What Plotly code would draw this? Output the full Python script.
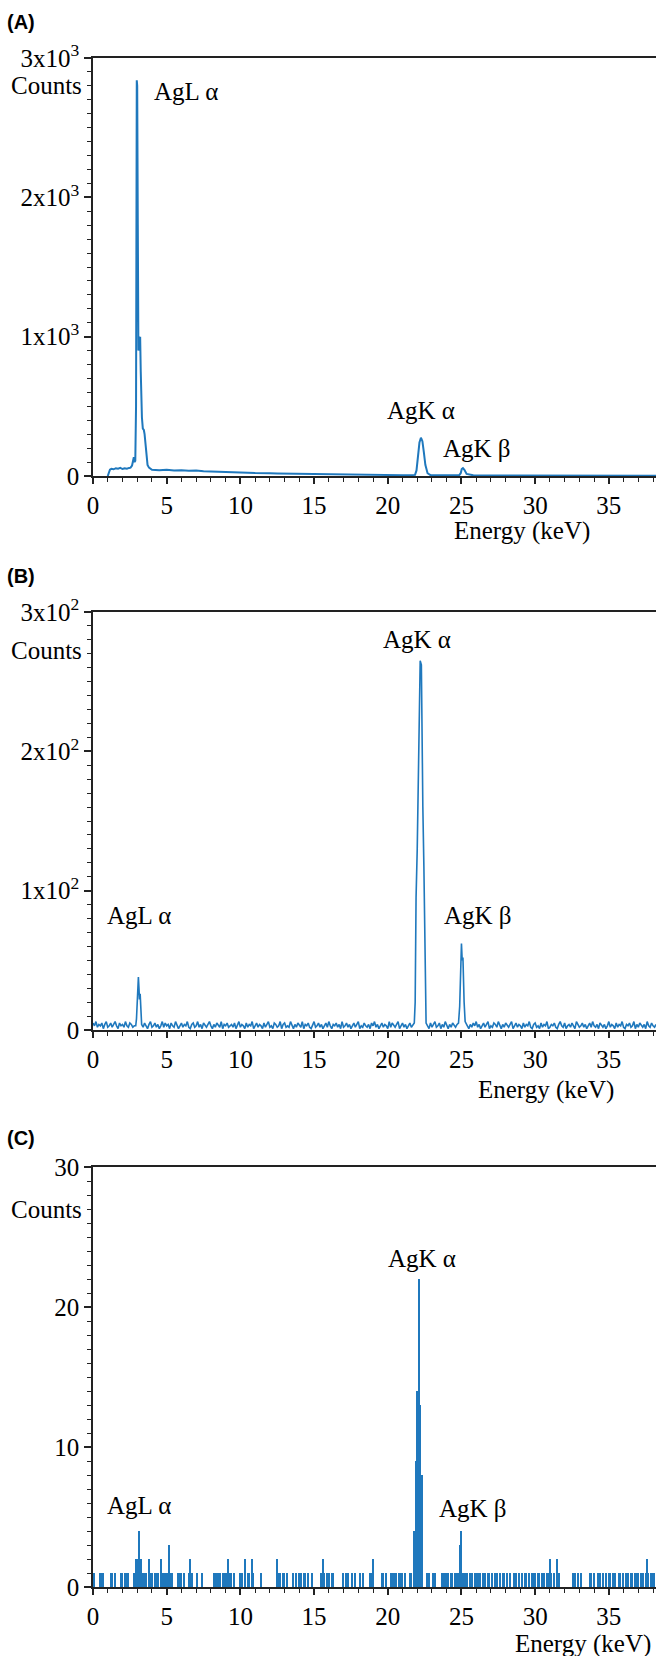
import plotly.graph_objects as go

W, H = 656, 1656
LINE = "#1f78bd"
AX = "#222222"
SERIF = "Liberation Serif"

# ---------------- data ----------------
# Panel A: EDS spectrum, counts vs energy (keV)
a_energy = [1.0, 1.08, 1.15, 1.25, 1.4, 1.55, 1.7, 1.85, 2.0, 2.15, 2.3, 2.45, 2.55, 2.65,
            2.72, 2.77, 2.82, 2.87, 2.92, 2.97, 3.0, 3.04, 3.08, 3.12, 3.16, 3.2, 3.24, 3.28,
            3.32, 3.38, 3.45, 3.5, 3.56, 3.62, 3.7, 3.8, 3.9, 4.0, 4.5, 5.0, 5.5, 6.0, 6.5,
            7.0, 7.5, 8.0, 8.5, 9.0, 9.5, 10.0, 10.5, 11.0, 11.5, 12.0, 12.5, 13.0, 13.5,
            14.0, 14.5, 15.0, 15.5, 16.0, 16.5, 17.0, 17.5, 18.0, 18.5, 19.0, 19.5, 20.0,
            20.5, 21.0, 21.5, 21.7, 21.85, 21.95, 22.05, 22.15, 22.25, 22.35, 22.45, 22.55,
            22.7, 22.9, 23.4, 23.9, 24.4, 24.7, 24.85, 24.95, 25.02, 25.1, 25.2, 25.35, 25.8,
            26.5, 27.5, 28.5, 29.5, 30.5, 31.5, 32.5, 33.5, 34.5, 35.5, 36.5, 37.5, 38.3]
a_counts = [0, 20, 45, 52, 48, 56, 52, 58, 50, 55, 52, 58, 60, 75,
            120, 135, 100, 110, 500, 2840, 2800, 1800, 900, 1000, 980, 1000, 750, 560,
            420, 340, 330, 300, 220, 130, 80, 60, 50, 45, 41, 44, 39, 42, 37, 40,
            34, 33, 30, 29, 26, 25, 24, 21, 22, 19, 18, 17, 16, 15,
            14, 13, 12, 11, 11, 10, 9, 9, 8, 8, 7, 7, 6,
            6, 6, 6, 8, 40, 150, 240, 275, 250, 170, 80, 20,
            6, 5, 5, 5, 5, 6, 20, 50, 57, 45, 15, 5, 4,
            4, 3, 3, 3, 3, 2, 2, 2, 2, 2, 2, 2, 2]

# Panel B
b_energy = [
    0.0, 0.1, 0.2, 0.3, 0.4, 0.5, 0.6, 0.7, 0.8, 0.9,
    1.0, 1.1, 1.2, 1.3, 1.4, 1.5, 1.6, 1.7, 1.8, 1.9,
    2.0, 2.1, 2.2, 2.3, 2.4, 2.5, 2.6, 2.7, 2.8,
    2.9, 2.95, 3.0, 3.05, 3.08, 3.12, 3.15, 3.2, 3.25, 3.3,
    3.4, 3.5, 3.6, 3.7, 3.8, 3.9, 4.0, 4.1, 4.2, 4.3,
    4.4, 4.5, 4.6, 4.7, 4.8, 4.9, 5.0, 5.1, 5.2, 5.3,
    5.4, 5.5, 5.6, 5.7, 5.8, 5.9, 6.0, 6.1, 6.2, 6.3,
    6.4, 6.5, 6.6, 6.7, 6.8, 6.9, 7.0, 7.1, 7.2, 7.3,
    7.4, 7.5, 7.6, 7.7, 7.8, 7.9, 8.0, 8.1, 8.2, 8.3,
    8.4, 8.5, 8.6, 8.7, 8.8, 8.9, 9.0, 9.1, 9.2, 9.3,
    9.4, 9.5, 9.6, 9.7, 9.8, 9.9, 10.0, 10.1, 10.2, 10.3,
    10.4, 10.5, 10.6, 10.7, 10.8, 10.9, 11.0, 11.1, 11.2, 11.3,
    11.4, 11.5, 11.6, 11.7, 11.8, 11.9, 12.0, 12.1, 12.2, 12.3,
    12.4, 12.5, 12.6, 12.7, 12.8, 12.9, 13.0, 13.1, 13.2, 13.3,
    13.4, 13.5, 13.6, 13.7, 13.8, 13.9, 14.0, 14.1, 14.2, 14.3,
    14.4, 14.5, 14.6, 14.7, 14.8, 14.9, 15.0, 15.1, 15.2, 15.3,
    15.4, 15.5, 15.6, 15.7, 15.8, 15.9, 16.0, 16.1, 16.2, 16.3,
    16.4, 16.5, 16.6, 16.7, 16.8, 16.9, 17.0, 17.1, 17.2, 17.3,
    17.4, 17.5, 17.6, 17.7, 17.8, 17.9, 18.0, 18.1, 18.2, 18.3,
    18.4, 18.5, 18.6, 18.7, 18.8, 18.9, 19.0, 19.1, 19.2, 19.3,
    19.4, 19.5, 19.6, 19.7, 19.8, 19.9, 20.0, 20.1, 20.2, 20.3,
    20.4, 20.5, 20.6, 20.7, 20.8, 20.9, 21.0, 21.1, 21.2, 21.3,
    21.4, 21.5, 21.6, 21.7,
    21.8, 21.86, 21.92, 22.0, 22.05, 22.12, 22.2, 22.28, 22.33, 22.38, 22.45, 22.52, 22.6,
    22.7, 22.8, 22.9, 23.0, 23.1, 23.2, 23.3, 23.4, 23.5, 23.6,
    23.7, 23.8, 23.9, 24.0, 24.1, 24.2, 24.3, 24.4, 24.5, 24.6,
    24.7,
    24.8, 24.88, 24.95, 25.0, 25.05, 25.1, 25.18, 25.25,
    25.4, 25.5, 25.6, 25.7, 25.8, 25.9, 26.0, 26.1, 26.2, 26.3,
    26.4, 26.5, 26.6, 26.7, 26.8, 26.9, 27.0, 27.1, 27.2, 27.3,
    27.4, 27.5, 27.6, 27.7, 27.8, 27.9, 28.0, 28.1, 28.2, 28.3,
    28.4, 28.5, 28.6, 28.7, 28.8, 28.9, 29.0, 29.1, 29.2, 29.3,
    29.4, 29.5, 29.6, 29.7, 29.8, 29.9, 30.0, 30.1, 30.2, 30.3,
    30.4, 30.5, 30.6, 30.7, 30.8, 30.9, 31.0, 31.1, 31.2, 31.3,
    31.4, 31.5, 31.6, 31.7, 31.8, 31.9, 32.0, 32.1, 32.2, 32.3,
    32.4, 32.5, 32.6, 32.7, 32.8, 32.9, 33.0, 33.1, 33.2, 33.3,
    33.4, 33.5, 33.6, 33.7, 33.8, 33.9, 34.0, 34.1, 34.2, 34.3,
    34.4, 34.5, 34.6, 34.7, 34.8, 34.9, 35.0, 35.1, 35.2, 35.3,
    35.4, 35.5, 35.6, 35.7, 35.8, 35.9, 36.0, 36.1, 36.2, 36.3,
    36.4, 36.5, 36.6, 36.7, 36.8, 36.9, 37.0, 37.1, 37.2, 37.3,
    37.4, 37.5, 37.6, 37.7, 37.8, 37.9, 38.0, 38.1, 38.2]
b_counts = [
    5, 3, 6, 2, 4, 3, 5, 1, 4, 6,
    2, 3, 5, 2, 4, 6, 3, 1, 5, 3,
    4, 2, 6, 3, 2, 5, 4, 2, 3,
    3, 8, 18, 28, 38, 30, 22, 26, 10, 4,
    2, 5, 3, 1, 4, 6, 2, 3, 5, 2,
    4, 1, 3, 6, 2, 5, 3, 4, 1, 5,
    3, 2, 6, 4, 1, 3, 5, 2, 4, 3,
    6, 2, 1, 4, 5, 2, 3, 6, 2, 4,
    1, 5, 3, 2, 4, 6, 3, 1, 4, 2,
    5, 3, 2, 6, 1, 4, 3, 5, 2, 3,
    4, 2, 5, 1, 3, 6, 2, 4, 3, 1,
    5, 2, 4, 3, 6, 1, 3, 5, 2, 4,
    3, 1, 5, 2, 4, 6, 2, 3, 1, 5,
    4, 2, 3, 6, 1, 4, 5, 2, 3, 2,
    6, 3, 1, 4, 2, 5, 3, 2, 6, 1,
    4, 3, 5, 2, 1, 4, 6, 2, 3, 5,
    2, 4, 1, 3, 5, 2, 6, 3, 1, 4,
    3, 5, 2, 4, 1, 6, 2, 3, 5, 2,
    4, 1, 3, 5, 2, 4, 6, 1, 3, 2,
    5, 3, 2, 4, 1, 5, 3, 6, 2, 4,
    1, 3, 5, 2, 4, 3, 1, 6, 2, 5,
    3, 2, 4, 6, 1, 3, 5, 2, 4, 1,
    3, 5, 2, 4,
    5, 20, 95, 130, 171, 228, 265, 262, 200, 160, 118, 40, 5,
    3, 1, 5, 2, 4, 6, 2, 3, 5, 1,
    4, 2, 6, 3, 1, 4, 2, 5, 3, 2,
    4,
    5, 17, 45, 62, 50, 52, 20, 6,
    3, 1, 4, 2, 5, 3, 6, 2, 4, 1,
    3, 5, 2, 4, 6, 1, 3, 2, 5, 4,
    2, 6, 3, 1, 4, 2, 5, 3, 2, 4,
    6, 1, 3, 5, 2, 4, 3, 1, 5, 2,
    4, 3, 6, 2, 1, 4, 5, 2, 3, 1,
    5, 2, 4, 3, 6, 1, 2, 4, 3, 5,
    2, 1, 4, 6, 3, 2, 5, 1, 3, 4,
    2, 5, 3, 1, 6, 4, 2, 3, 5, 2,
    4, 1, 3, 5, 2, 6, 3, 2, 4, 1,
    5, 3, 2, 4, 1, 3, 6, 2, 4, 3,
    1, 5, 2, 4, 3, 6, 2, 1, 4, 3,
    5, 2, 3, 6, 1, 4, 2, 5, 3, 2,
    4, 1, 6, 3, 2, 5, 3, 2, 4]

# Panel C: channel energies (keV) with non-zero counts
c_energy = [0.1, 0.5, 0.6, 0.7, 1.2, 1.3, 1.5, 1.9, 2.0, 2.2,
            2.3, 2.4, 2.8, 2.9, 3.0, 3.1, 3.2, 3.3, 3.4, 3.5,
            3.6, 3.8, 3.9, 4.0, 4.2, 4.3, 4.4, 4.6, 4.7, 4.8,
            4.9, 5.0, 5.1, 5.2, 5.3, 5.4, 5.8, 5.9, 6.0, 6.2,
            6.5, 6.6, 6.7, 7.1, 7.4, 8.2, 8.3, 8.4, 8.5, 8.6,
            8.8, 9.0, 9.1, 9.2, 9.3, 9.4, 9.6, 10.0, 10.1, 10.3,
            10.5, 10.6, 10.8, 10.9, 11.4, 12.5, 12.6, 12.7, 12.9, 13.0,
            13.2, 13.6, 13.8, 14.0, 14.1, 14.3, 14.4, 14.6, 14.9, 15.5,
            15.6, 15.7, 15.9, 16.0, 16.2, 16.3, 17.0, 17.2, 17.3, 17.6,
            17.8, 18.1, 18.3, 18.8, 18.9, 19.0, 19.6, 19.7, 19.9, 20.2,
            20.3, 20.4, 20.6, 20.8, 20.9, 21.0, 21.2, 21.5, 21.6, 21.8,
            21.9, 22.0, 22.1, 22.2, 22.3, 22.7, 22.8, 23.1, 23.2, 23.7,
            23.8, 23.9, 24.0, 24.1, 24.3, 24.4, 24.6, 24.7, 24.8, 24.9,
            25.0, 25.1, 25.2, 25.3, 25.4, 25.6, 25.7, 25.9, 26.0, 26.1,
            26.3, 26.5, 26.6, 26.8, 26.9, 27.1, 27.3, 27.4, 27.6, 27.8,
            27.9, 28.1, 28.3, 28.6, 28.7, 28.9, 29.1, 29.3, 29.4, 29.6,
            29.8, 29.9, 30.0, 30.2, 30.3, 30.5, 30.6, 30.8, 30.9, 31.0,
            31.1, 31.3, 31.5, 31.6, 32.6, 32.7, 32.9, 33.1, 33.7, 33.8,
            34.0, 34.3, 34.4, 34.6, 34.8, 35.0, 35.1, 35.3, 35.4, 35.7,
            35.8, 36.0, 36.2, 36.3, 36.5, 36.6, 36.8, 36.9, 37.0, 37.2,
            37.3, 37.5, 37.6, 37.7, 37.9, 38.0, 38.1]
c_counts = [1, 1, 1, 1, 1, 1, 1, 1, 1, 1,
            1, 1, 1, 2, 2, 4, 2, 2, 1, 1,
            1, 2, 1, 1, 1, 1, 1, 2, 1, 1,
            1, 1, 1, 3, 1, 1, 1, 1, 1, 1,
            1, 2, 1, 1, 1, 1, 1, 1, 1, 1,
            1, 1, 1, 2, 1, 1, 1, 1, 1, 2,
            1, 1, 2, 1, 1, 2, 1, 1, 1, 1,
            1, 1, 1, 1, 1, 1, 1, 1, 1, 1,
            2, 1, 1, 1, 1, 1, 1, 1, 1, 1,
            1, 1, 1, 1, 1, 2, 1, 1, 1, 1,
            1, 1, 1, 1, 1, 1, 1, 1, 1, 4,
            9, 14, 22, 13, 8, 1, 1, 1, 1, 1,
            1, 1, 1, 1, 1, 1, 1, 1, 1, 3,
            4, 1, 1, 1, 1, 1, 1, 1, 1, 1,
            1, 1, 1, 1, 1, 1, 1, 1, 1, 1,
            1, 1, 1, 1, 1, 1, 1, 1, 1, 1,
            1, 1, 1, 1, 1, 1, 1, 1, 1, 2,
            1, 1, 2, 1, 1, 1, 1, 1, 1, 1,
            1, 1, 1, 1, 1, 1, 1, 1, 1, 1,
            1, 1, 1, 1, 1, 1, 1, 1, 1, 1,
            1, 1, 2, 1, 1, 1, 1]

x_ticks = [0, 5, 10, 15, 20, 25, 30, 35]
a_ytick_vals = [0, 1000, 2000, 3000]
a_ytick_text = ["0", "1x10<sup>3</sup>", "2x10<sup>3</sup>", "3x10<sup>3</sup>"]
b_ytick_vals = [0, 100, 200, 300]
b_ytick_text = ["0", "1x10<sup>2</sup>", "2x10<sup>2</sup>", "3x10<sup>2</sup>"]
c_ytick_vals = [0, 10, 20, 30]
c_ytick_text = ["0", "10", "20", "30"]

# ---------------- figure ----------------
fig = go.Figure()
fig.add_trace(go.Scatter(x=a_energy, y=a_counts, mode="lines",
                         line=dict(color=LINE, width=2), xaxis="x", yaxis="y",
                         showlegend=False, hoverinfo="skip"))
fig.add_trace(go.Scatter(x=b_energy, y=b_counts, mode="lines",
                         line=dict(color=LINE, width=1.6), xaxis="x2", yaxis="y2",
                         showlegend=False, hoverinfo="skip"))
fig.add_trace(go.Bar(x=c_energy, y=c_counts, width=0.09,
                     marker=dict(color=LINE, line=dict(width=0)),
                     xaxis="x3", yaxis="y3", showlegend=False, hoverinfo="skip"))

# panel pixel frames: (top, bottom, ymax, tickvals, ticktext, minor step)
panels = [
    (58, 476, 3000, a_ytick_vals, a_ytick_text, 100),
    (612, 1030, 300, b_ytick_vals, b_ytick_text, 10),
    (1167, 1587, 30, c_ytick_vals, c_ytick_text, 1),
]
X0 = 93
FS = 25
tickfont = dict(family=SERIF, size=FS, color="black")

layout = dict(width=W, height=H,
              margin=dict(l=0, r=0, t=0, b=0, pad=0, autoexpand=False),
              plot_bgcolor="white", paper_bgcolor="white", showlegend=False,
              bargap=0)
for i, (top, bot, ymax, tv, tt, mstep) in enumerate(panels):
    s = "" if i == 0 else str(i + 1)
    layout["xaxis" + s] = dict(
        domain=[X0 / W, 1], range=[0, 38.2], anchor="y" + s, automargin=False,
        tickmode="array", tickvals=x_ticks, ticktext=[str(v) for v in x_ticks],
        ticks="outside", ticklen=6, tickwidth=1.5, tickcolor=AX,
        showline=True, linecolor=AX, linewidth=1.5, mirror=True,
        showgrid=False, zeroline=False, tickfont=tickfont, ticklabelstandoff=0,
        minor=dict(dtick=1, tick0=0, ticks="outside", ticklen=4, tickwidth=1.2,
                   tickcolor=AX, showgrid=False))
    layout["yaxis" + s] = dict(
        domain=[1 - bot / H, 1 - top / H], range=[0, ymax], anchor="x" + s,
        automargin=False,
        tickmode="array", tickvals=tv, ticktext=tt,
        ticks="outside", ticklen=7, tickwidth=1.5, tickcolor=AX,
        showline=True, linecolor=AX, linewidth=1.5,
        showgrid=False, zeroline=False, tickfont=tickfont,
        minor=dict(dtick=mstep, tick0=0, ticks="outside", ticklen=4, tickwidth=1.2,
                   tickcolor=AX, showgrid=False))

ann = []
def txt(text, x, y, xref, yref, xanchor="center", size=FS, family=SERIF, bold=False):
    ann.append(dict(text=("<b>%s</b>" % text) if bold else text, x=x, y=y,
                    xref=xref, yref=yref, xanchor=xanchor, yanchor="middle",
                    showarrow=False, font=dict(family=family, size=size, color="black")))

# panel letters
for letter, ypx in (("(A)", 22), ("(B)", 576), ("(C)", 1138)):
    txt(letter, 5 / W, 1 - ypx / H, "paper", "paper", "left", 20, "Liberation Sans", True)
# y-axis titles
for ypx in (85, 650, 1209):
    txt("Counts", 84 / W, 1 - ypx / H, "paper", "paper", "right")
# x-axis titles
for xr, ypx in ((592, 531), (616, 1090), (653, 1644)):
    txt("Energy (keV)", xr / W, 1 - ypx / H, "paper", "paper", "right")

# peak labels (data coordinates)
txt("AgL α", 4.0, 2760, "x", "y", "left")
txt("AgK α", 22.25, 470, "x", "y")
txt("AgK β", 26.05, 195, "x", "y")
txt("AgK α", 22.0, 280, "x2", "y2")
txt("AgK β", 26.1, 82, "x2", "y2")
txt("AgL α", 0.8, 82, "x2", "y2", "left")
txt("AgK α", 22.3, 23.5, "x3", "y3")
txt("AgK β", 25.8, 5.6, "x3", "y3")
txt("AgL α", 0.8, 5.8, "x3", "y3", "left")

layout["annotations"] = ann
fig.update_layout(**layout)
fig.write_html("out.html")
